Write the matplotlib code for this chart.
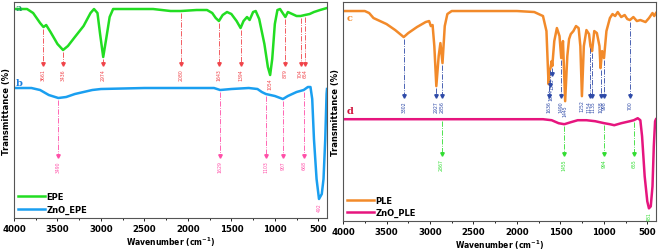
import numpy as np
import matplotlib.pyplot as plt

# ---- data (transmittance in arbitrary offset units) ----
epe_wn = [4000, 3850, 3780, 3700, 3661, 3630, 3580, 3500, 3436, 3380, 3300, 3200, 3120, 3080,
          3040, 3010, 2974, 2940, 2900, 2860, 2700, 2400, 2300, 2200, 2080, 1900, 1780, 1720,
          1680, 1643, 1600, 1550, 1500, 1440, 1394, 1360, 1320, 1290, 1250, 1220, 1180, 1120,
          1080, 1054, 1030, 1000, 970, 940, 910, 879, 850, 800, 750, 704, 654, 600, 550, 480,
          440, 400]
epe_t = [209, 209, 205, 195, 191, 193, 186, 174, 168, 172, 181, 192, 205, 209,
         205, 184, 161, 179, 201, 209, 209, 209, 208, 207, 207, 208, 208, 205,
         200, 197, 203, 206, 204, 197, 190, 197, 201, 198, 206, 207, 199, 174,
         151, 143, 159, 194, 208, 209, 205, 201, 206, 204, 202, 202, 203, 204, 206, 208,
         209, 210]

znoepe_wn = [4000, 3800, 3700, 3600, 3490, 3400, 3300, 3100, 3000, 2500, 2000, 1700, 1629,
             1500, 1300, 1200, 1150, 1103, 1000, 907, 850, 750, 668, 620, 590, 570, 550,
             520, 492, 460, 440, 420, 405, 400]
znoepe_t = [130, 130, 128, 123, 120, 121, 124, 128, 129, 130, 130, 130, 128,
            129, 130, 129, 126, 124, 122, 119, 122, 126, 128, 131, 131, 119, 79,
            39, 19, 24, 39, 79, 124, 129]

ple_wn = [4000, 3750, 3700, 3650, 3600, 3500, 3400, 3302, 3250, 3150, 3050, 3010, 2990, 2970,
          2950, 2927, 2900, 2880, 2856, 2830, 2800, 2750, 2500, 2000, 1800, 1700, 1660, 1636,
          1625, 1614, 1600, 1593, 1570, 1540, 1510, 1490, 1470, 1445, 1420, 1400, 1380, 1350,
          1320, 1290, 1270, 1252, 1230, 1200, 1170, 1154, 1135, 1110, 1080, 1050, 1038, 1020,
          998, 970, 930, 900, 870, 840, 800, 760, 730, 700, 660, 620, 580, 520, 480, 440,
          420, 400]
ple_t = [210, 210, 208, 203, 201, 197, 191, 184, 188, 194, 199, 200, 195, 196,
         175, 135, 165, 178, 158, 195, 207, 210, 210, 210, 209, 205, 190, 137,
         150, 153, 160, 155, 180, 193, 185, 163, 180, 120, 165, 182, 187, 190,
         195, 193, 175, 125, 175, 191, 187, 175, 170, 190, 188, 175, 153, 170,
         163, 190, 203, 207, 205, 209, 204, 206, 202, 201, 204, 200, 201, 199, 203, 208,
         205, 208]

znople_wn = [4000, 3500, 3000, 2867, 2500, 2000, 1700, 1600, 1520, 1455, 1380, 1300, 1200,
             1100, 994, 930, 880, 800, 700, 655, 610, 580, 560, 530, 500, 481, 460, 440,
             425, 410, 400]
znople_t = [102, 102, 102, 102, 102, 102, 102, 101, 98, 97, 99, 101, 101,
            100, 98, 97, 96, 98, 100, 101, 103, 101, 85, 45, 20, 13, 15, 35,
            75, 100, 102]

epe_peaks = [3661, 3436, 2974, 2080, 1643, 1394, 1054, 879, 704, 654]
znoepe_peaks = [3490, 1629, 1103, 907, 668]
ple_peaks = [3302, 2927, 2856, 1636, 1614, 1593, 1490, 1445, 1252, 1154, 1135, 1038, 998, 700]
znople_peaks = [2867, 1455, 994, 655]

c_epe = '#22dd22'
c_znoepe = '#1a9ff0'
c_ple = '#f28a2a'
c_znople = '#e6157e'


def curve_at(wn, t, w):
    return np.interp(w, wn[::-1], t[::-1])


def mark_peaks(ax, wn, t, peaks, tip, color, special=None, shift=None):
    # dash-dot drop line with an arrow head and a rotated label
    special = special or {}
    shift = shift or {}
    for p in peaks:
        y0 = curve_at(wn, t, p) - 1.5
        if p in special:
            yt, ytext = special[p]
        else:
            yt, ytext = tip, tip - 4
        if yt is not None and y0 > yt:
            ax.plot([p, p], [y0, yt], ls='-.', lw=0.6, color=color)
            ax.plot(p, yt, marker='v', ms=2.5, color=color, mec=color)
        ax.text(p + shift.get(p, 0), ytext, str(p), rotation=90, ha='center', va='top',
                fontsize=3.3, color=color)


fig = plt.figure(figsize=(6.61, 2.51), dpi=100)
ax1 = fig.add_axes([0.0212, 0.1275, 0.4735, 0.8605])
ax2 = fig.add_axes([0.519, 0.114, 0.4734, 0.874])

for ax in (ax1, ax2):
    ax.set_xlim(4000, 400)
    ax.set_xticks([4000, 3500, 3000, 2500, 2000, 1500, 1000, 500])
    ax.set_xticks(np.arange(3750, 400, -500), minor=True)
    ax.tick_params(axis='x', which='major', labelsize=6.2, length=2.5, width=0.6, pad=1.5)
    ax.tick_params(axis='x', which='minor', length=1.5, width=0.6)
    ax.set_yticks([])
    for lbl in ax.get_xticklabels():
        lbl.set_fontweight('bold')
    for s in ax.spines.values():
        s.set_color('#555555')
        s.set_linewidth(0.8)
    ax.set_ylabel('Transmittance (%)', fontsize=6, fontweight='bold', labelpad=2)
    ax.set_xlabel('Wavenumber (cm$^{\\mathbf{-1}}$)', fontsize=5.5, fontweight='bold', labelpad=1.5)

# left panel
ax1.set_ylim(0, 216)
ax1.plot(epe_wn, epe_t, color=c_epe, lw=1.8, label='EPE')
ax1.plot(znoepe_wn, znoepe_t, color=c_znoepe, lw=1.8, label='ZnO_EPE')
mark_peaks(ax1, epe_wn, epe_t, epe_peaks, 154, '#f0444a', special={1054: (None, 141)})
mark_peaks(ax1, znoepe_wn, znoepe_t, znoepe_peaks, 62, '#ff4fa8')
ax1.text(492, 16, '492', rotation=90, ha='center', va='top', fontsize=3.3, color='#ff4fa8')
ax1.text(3985, 215, 'a', fontsize=7, family='serif', fontweight='bold', color='#1fa060',
         va='top', zorder=5)
ax1.text(3985, 140, 'b', fontsize=7, family='serif', fontweight='bold', color='#1a7fe0',
         va='top', zorder=5)
ax1.legend(loc='lower left', frameon=False, handlelength=3.2,
           handletextpad=0.2, borderaxespad=0.1, labelspacing=0.4,
           prop={'weight': 'bold', 'size': 6})

# right panel
ax2.set_ylim(0, 219)
ax2.plot(ple_wn, ple_t, color=c_ple, lw=1.8, label='PLE')
ax2.plot(znople_wn, znople_t, color=c_znople, lw=1.8, label='ZnO_PLE')
mark_peaks(ax2, ple_wn, ple_t, ple_peaks, 125, '#2e4aa8',
           special={1614: (136, 133), 1593: (147, 144), 1445: (None, 117), 1252: (None, 122)},
           shift={1154: 12, 1135: -12})
mark_peaks(ax2, znople_wn, znople_t, znople_peaks, 67, '#33dd33')
ax2.text(481, 10, '481', rotation=90, ha='center', va='top', fontsize=3.3, color='#33dd33')
ax2.text(3960, 208, 'c', fontsize=7, family='serif', fontweight='bold', color=c_ple,
         va='top', zorder=5)
ax2.text(3960, 115, 'd', fontsize=7, family='serif', fontweight='bold', color='#d0103a',
         va='top', zorder=5)
ax2.legend(loc='lower left', frameon=False, handlelength=3.2,
           handletextpad=0.2, borderaxespad=0.1, labelspacing=0.4,
           prop={'weight': 'bold', 'size': 6})

fig.savefig('out.png', dpi=100)
